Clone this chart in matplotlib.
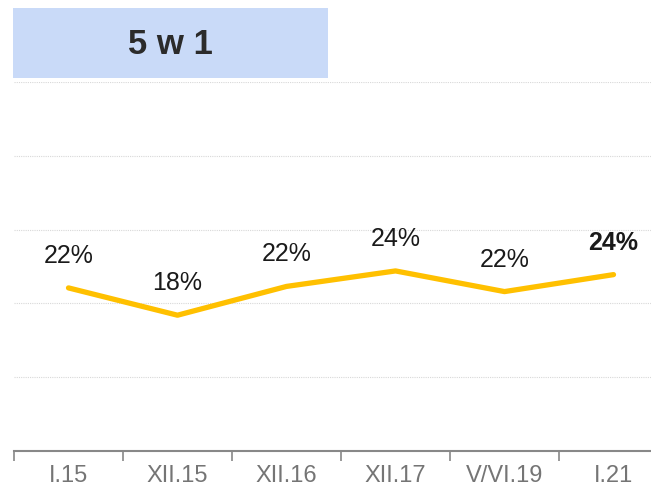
import matplotlib.pyplot as plt
from matplotlib.patches import Rectangle

# data
categories = ["I.15", "XII.15", "XII.16", "XII.17", "V/VI.19", "I.21"]
values = [22.1, 18.4, 22.3, 24.4, 21.6, 23.9]
labels = ["22%", "18%", "22%", "24%", "22%", "24%"]
title = "5 w 1"

plt.rcParams['font.family'] = ['Liberation Sans', 'DejaVu Sans']

fig = plt.figure(figsize=(6.51, 4.91), dpi=100)
W, H = 651, 491

# axes spans past the right edge like the original crop
ax = fig.add_axes([14 / W, 40 / H, 654 / W, 369 / H])
x = list(range(len(values)))
ax.plot(x, values, color="#FFC000", linewidth=3.8, solid_capstyle="round",
        solid_joinstyle="round", zorder=3)

for i, (v, lab) in enumerate(zip(values, labels)):
    bold = i == len(values) - 1
    ax.annotate(lab, (i, v), xytext=(0, 23), textcoords="offset points",
                ha="center", va="center", fontsize=18, color="#1a1a1a",
                fontweight="bold" if bold else "normal")

ax.set_xlim(-0.5, len(values) - 0.5)
ax.set_ylim(0, 50)
ax.set_yticks([10, 20, 30, 40, 50])
ax.tick_params(axis="y", length=0, labelleft=False)
ax.grid(axis="y", color="#d8d8d8", linestyle=(0, (1, 1)), linewidth=0.8)
ax.set_axisbelow(True)

ax.set_xticks(x)
ax.set_xticklabels(categories, fontsize=17, color="#757575")
ax.set_xticks([i - 0.5 for i in range(len(values) + 1)], minor=True)
ax.tick_params(axis="x", which="major", length=0, pad=10)
ax.tick_params(axis="x", which="minor", length=7, width=1.2, color="#888888")

for s in ["top", "right", "left"]:
    ax.spines[s].set_visible(False)
ax.spines["bottom"].set_color("#888888")
ax.spines["bottom"].set_linewidth(1.5)

# title box
fig.patches.append(Rectangle((13 / W, (H - 78) / H), 315 / W, 70 / H,
                             transform=fig.transFigure, facecolor="#C9DAF8",
                             edgecolor="none", zorder=0))
fig.text(170 / W, (H - 45) / H, title, ha="center", va="center",
         fontsize=25, fontweight="bold", color="#2b2b2b")

fig.savefig("out.png", dpi=100)
